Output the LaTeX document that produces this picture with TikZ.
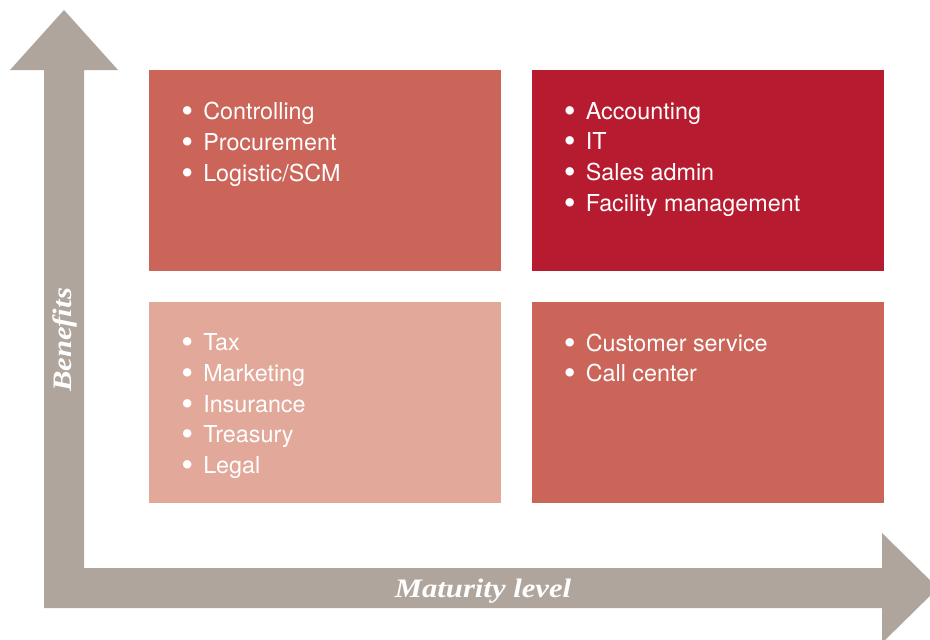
\documentclass[tikz,border=0pt]{standalone}
\usepackage{fontspec}
\setmainfont{TeX Gyre Heros}
\newfontfamily\axisfont[FakeStretch=1.15]{Liberation Serif}
\usetikzlibrary{positioning}
\definecolor{axisgray}{HTML}{AFA59D}
\definecolor{midred}{HTML}{CB6459}
\definecolor{deepred}{HTML}{B71B30}
\definecolor{palered}{HTML}{E2A89A}
\newcommand{\itm}[1]{\makebox[16.5pt][l]{\raisebox{-0.13em}{\scalebox{1.45}{\textbullet}}}#1}

\begin{document}
\begin{tikzpicture}[
    x = 0.75pt, y = -0.75pt,
    node distance = 22.5pt and 22.5pt,
    quad/.style = {rectangle, minimum width=264pt, minimum height=150.75pt, inner sep=0pt},
    items/.style = {anchor=north west, inner sep=0pt, align=left, text=white,
                    font=\fontsize{17.5}{23}\selectfont},
    axislabel/.style = {text=white, inner sep=0pt, font=\axisfont\bfseries\itshape\fontsize{20}{24}\selectfont}
    ]

  \clip (0,0) rectangle (930,639);
  \useasboundingbox (0,0) rectangle (930,639);

  % axes
  \fill[axisgray] (44,608) -- (44,70) -- (10,70) -- (64,10) -- (118,70) -- (84,70)
    -- (84,568) -- (882,568) -- (882,533) -- (938,588) -- (882,643) -- (882,608) -- cycle;

  \node[axislabel, rotate=90] (benefits) at (65,340) {Benefits} ;
  \node[axislabel] (maturity) at (483,591) {Maturity level} ;

  % quadrants
  \node[quad, fill=midred, anchor=north west] (ctrlbox) at (149,70) {} ;
  \node[quad, fill=deepred] (acctbox) [right=of ctrlbox] {} ;
  \node[quad, fill=palered] (taxbox) [below=of ctrlbox] {} ;
  \node[quad, fill=midred] (custbox) [below=of acctbox] {} ;

  \node[items] (ctrllist) at ([xshift=24pt,yshift=-24pt]ctrlbox.north west)
    {\itm{Controlling}\\ \itm{Procurement}\\ \itm{Logistic/SCM}} ;
  \node[items] (acctlist) at ([xshift=24pt,yshift=-24pt]acctbox.north west)
    {\itm{Accounting}\\ \itm{IT}\\ \itm{Sales admin}\\ \itm{Facility management}} ;
  \node[items] (taxlist) at ([xshift=24pt,yshift=-24pt]taxbox.north west)
    {\itm{Tax}\\ \itm{Marketing}\\ \itm{Insurance}\\ \itm{Treasury}\\ \itm{Legal}} ;
  \node[items] (custlist) at ([xshift=24pt,yshift=-24pt]custbox.north west)
    {\itm{Customer service}\\ \itm{Call center}} ;

\end{tikzpicture}
\end{document}
